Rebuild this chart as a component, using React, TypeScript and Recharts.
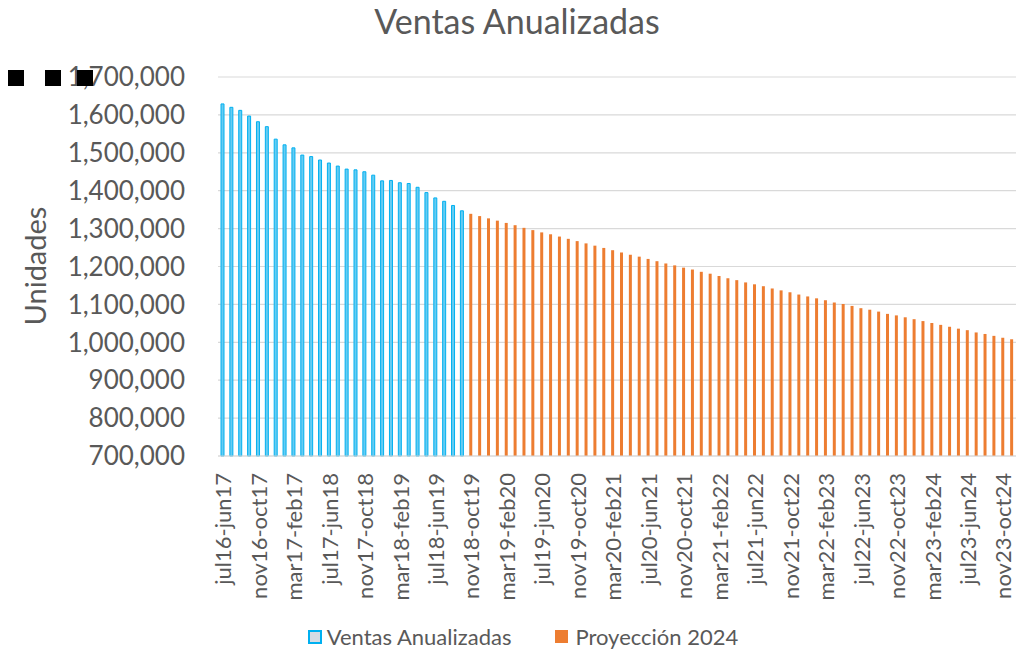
import { BarChart, Bar, XAxis, YAxis, CartesianGrid, Legend } from "recharts";

const categories = [
  "jul16-jun17", "ago16-jul17", "sep16-ago17", "oct16-sep17", "nov16-oct17", "dic16-nov17", "ene17-dic17", "feb17-ene18",
  "mar17-feb17", "abr17-mar18", "may17-abr18", "jun17-may18", "jul17-jun18", "ago17-jul18", "sep17-ago18", "oct17-sep18",
  "nov17-oct18", "dic17-nov18", "ene18-dic18", "feb18-ene19", "mar18-feb19", "abr18-mar19", "may18-abr19", "jun18-may19",
  "jul18-jun19", "ago18-jul19", "sep18-ago19", "oct18-sep19", "nov18-oct19", "dic18-nov19", "ene19-dic19", "feb19-ene20",
  "mar19-feb20", "abr19-mar20", "may19-abr20", "jun19-may20", "jul19-jun20", "ago19-jul20", "sep19-ago20", "oct19-sep20",
  "nov19-oct20", "dic19-nov20", "ene20-dic20", "feb20-ene21", "mar20-feb21", "abr20-mar21", "may20-abr21", "jun20-may21",
  "jul20-jun21", "ago20-jul21", "sep20-ago21", "oct20-sep21", "nov20-oct21", "dic20-nov21", "ene21-dic21", "feb21-ene22",
  "mar21-feb22", "abr21-mar22", "may21-abr22", "jun21-may22", "jul21-jun22", "ago21-jul22", "sep21-ago22", "oct21-sep22",
  "nov21-oct22", "dic21-nov22", "ene22-dic22", "feb22-ene23", "mar22-feb23", "abr22-mar23", "may22-abr23", "jun22-may23",
  "jul22-jun23", "ago22-jul23", "sep22-ago23", "oct22-sep23", "nov22-oct23", "dic22-nov23", "ene23-dic23", "feb23-ene24",
  "mar23-feb24", "abr23-mar24", "may23-abr24", "jun23-may24", "jul23-jun24", "ago23-jul24", "sep23-ago24", "oct23-sep24",
  "nov23-oct24", "dic23-nov24",
];

// ventas reales (jul16-jun17 .. oct18-sep19)
const ventas = [
  1629000, 1620000, 1612000, 1597000, 1582000, 1569000, 1536000, 1521000, 1513000, 1494000,
  1490000, 1481000, 1473000, 1465000, 1457000, 1455000, 1450000, 1441000, 1426000, 1427000,
  1421000, 1419000, 1409000, 1395000, 1381000, 1372000, 1361000, 1347000,
];

// proyeccion (nov18-oct19 .. dic23-nov24)
const proyeccion = [
  1339000, 1333000, 1327000, 1321000, 1315000, 1309000, 1302000, 1296000, 1290000, 1285000,
  1279000, 1273000, 1267000, 1261000, 1255000, 1249000, 1243000, 1237000, 1231000, 1226000,
  1220000, 1214000, 1208000, 1203000, 1197000, 1192000, 1186000, 1181000, 1175000, 1169000,
  1164000, 1158000, 1153000, 1148000, 1142000, 1137000, 1132000, 1126000, 1121000, 1116000,
  1111000, 1105000, 1101000, 1096000, 1090000, 1086000, 1081000, 1075000, 1071000, 1066000,
  1061000, 1056000, 1051000, 1046000, 1041000, 1036000, 1032000, 1026000, 1022000, 1017000,
  1012000, 1008000,
];

const yTicks = [700000, 800000, 900000, 1000000, 1100000, 1200000, 1300000, 1400000, 1500000, 1600000, 1700000];

const data = categories.map((name, i) => ({
  name,
  ventas: i < ventas.length ? ventas[i] : null,
  proyeccion: i >= ventas.length ? proyeccion[i - ventas.length] : null,
}));

const FONT = "Lato, 'Open Sans', sans-serif";
const GREY = "#595959";
const BLUE = "#00B0F0";
const ORANGE = "#ED7D31";

const XTick = ({ x, y, payload }: any) => (
  <text
    x={x}
    y={y}
    transform={`rotate(-90 ${x} ${y})`}
    textAnchor="end"
    dy="0.4em"
    fill={GREY}
    fontSize={22}
    fontFamily={FONT}
  >
    {payload.value}
  </text>
);

const YLabel = () => (
  <text
    x={46}
    y={266}
    transform="rotate(-90 46 266)"
    textAnchor="middle"
    fill={GREY}
    fontSize={29}
    fontFamily={FONT}
  >
    Unidades
  </text>
);

const LegendBox = () => (
  <div
    style={{
      display: "flex",
      justifyContent: "center",
      alignItems: "center",
      paddingTop: 17,
      paddingLeft: 30,
      fontFamily: FONT,
      fontSize: 22,
      color: GREY,
      gap: 44,
    }}
  >
    <span style={{ display: "flex", alignItems: "center" }}>
      <span style={{ width: 10, height: 10, background: "#D6DCE4", border: `2px solid ${BLUE}`, marginRight: 5 }} />
      Ventas Anualizadas
    </span>
    <span style={{ display: "flex", alignItems: "center" }}>
      <span style={{ width: 13, height: 13, background: ORANGE, marginRight: 7 }} />
      Proyección 2024
    </span>
  </div>
);

export default function App() {
  return (
    <div style={{ position: "relative", width: 1016, height: 651, background: "#fff" }}>
      <style>{`body{margin:0}`}</style>
      <BarChart
        width={1016}
        height={651}
        data={data}
        margin={{ top: 77, right: 0, left: 0, bottom: 0 }}
        barSize={3}
        barGap={-3}
      >
        <CartesianGrid vertical={false} stroke="#D9D9D9" strokeWidth={1.2} />
        <XAxis
          dataKey="name"
          interval={3}
          height={150}
          tickLine={false}
          tickSize={0}
          tickMargin={17}
          axisLine={{ stroke: "#D9D9D9", strokeWidth: 1.2 }}
          tick={<XTick />}
        />
        <YAxis
          width={218}
          domain={[700000, 1700000]}
          ticks={yTicks}
          axisLine={false}
          tickLine={false}
          tickSize={0}
          tickMargin={33}
          tickFormatter={(v: number) => v.toLocaleString("en-US")}
          tick={{ fill: GREY, fontSize: 26, fontFamily: FONT }}
          label={<YLabel />}
        />
        <Legend verticalAlign="bottom" height={45} content={<LegendBox />} />
        <Bar dataKey="ventas" name="Ventas Anualizadas" fill="#66CCF2" stroke={BLUE} strokeWidth={1} isAnimationActive={false} />
        <Bar dataKey="proyeccion" name="Proyección 2024" fill={ORANGE} isAnimationActive={false} />
      </BarChart>
      <svg width={1016} height={651} style={{ position: "absolute", left: 0, top: 0, pointerEvents: "none" }}>
        <text x={517} y={34} textAnchor="middle" fill={GREY} fontSize={34} fontFamily={FONT}>
          Ventas Anualizadas
        </text>
        <rect x={8} y={70} width={16} height={16} fill="#000" />
        <rect x={45} y={70} width={16} height={16} fill="#000" />
        <rect x={77} y={70} width={16} height={16} fill="#000" />
      </svg>
    </div>
  );
}
